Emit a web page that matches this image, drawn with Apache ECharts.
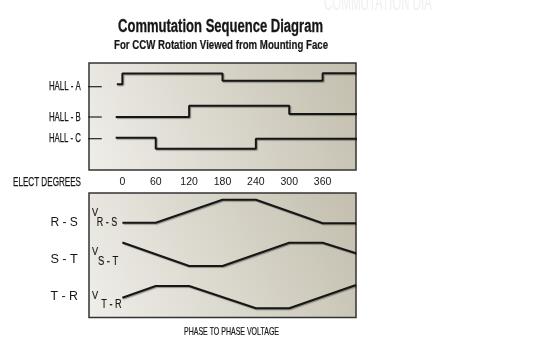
<!DOCTYPE html>
<html><head><meta charset="utf-8">
<script src="https://cdn.jsdelivr.net/npm/echarts@6/dist/echarts.min.js"></script>
<style>html,body{margin:0;padding:0;background:#fff}#c{width:546px;height:343px}</style>
</head><body><div id="c"></div>
<script>
// ---- data (x in electrical degrees, y in relative signal level) ----
const degreeTicks = [0, 60, 120, 180, 240, 300, 360];
const hallNames = ['HALL - A', 'HALL - B', 'HALL - C'];
const hallA = [[-10,85.7],[0,85.7],[0,96.5],[180,96.5],[180,89.3],[360,89.3],[360,96.7],[420,96.7]];
const hallB = [[-12,53],[120,53],[120,64.3],[300,64.3],[300,56],[422,56]];
const hallC = [[-12,32.3],[60,32.3],[60,21.3],[240,21.3],[240,31.3],[422,31.3]];
const hallLeaderLevels = [83.3, 53, 31.3];
const hallLeaderSpan = [-71, -37];

const phaseNames = ['R - S', 'S - T', 'T - R'];
const phaseSubs = ['R - S', 'S - T', 'T - R'];
const vRS = [[0,94.8],[60,94.8],[180,117.8],[240,117.8],[360,94.2],[420,94.2]];
const vST = [[0,75],[120,51.5],[180,51.5],[300,74.8],[360,74.8],[420,64.2]];
const vTR = [[0,19.8],[60,31.5],[120,31.5],[240,9.3],[300,9.3],[420,32.5]];
const phaseLabelLevels = [94.5, 57.5, 20.5];
const phaseLabelAnchor = -80;
const vSymbolLevels = [104.5, 65.8, 21.5];
const vSymbolAnchor = -49;
const subLevels = [94.8, 55.8, 12.5];
const subStarts = [-46, -44, -38];

const titleText = 'Commutation Sequence Diagram';
const subtitleText = 'For CCW Rotation Viewed from Mounting Face';
const axisTitle = 'ELECT DEGREES';
const bottomCaption = 'PHASE TO PHASE VOLTAGE';
const watermark = 'COMMUTATION DIA';

// ---- styling ----
const FACE = '"Liberation Sans", Arial, sans-serif';
const INK = '#161616';
const bg = {type:'linear', x:0, y:1, x2:1, y2:0, colorStops:[{offset:0,color:'#efeee9'},{offset:1,color:'#c3bead'}]};
const traceStyle = {color: INK, width: 2, shadowColor:'rgba(0,0,0,0.35)', shadowBlur:1, shadowOffsetX:1, shadowOffsetY:1};

const measureCtx = document.createElement('canvas').getContext('2d');
function fontOf(size, weight){ return (weight||'normal') + ' ' + size + 'px ' + FACE; }
// condensed text: scaled horizontally so it spans the given width
function ctext(text, x, y, size, width, align, opts) {
  opts = opts || {};
  const font = fontOf(size, opts.weight);
  measureCtx.font = font;
  const w = measureCtx.measureText(text).width;
  const sx = width ? width / w : (opts.scale || 0.72);
  const fill = opts.color || INK;
  const st = {text, font, fill, align, textAlign:align, verticalAlign:'middle', textVerticalAlign:'middle'};
  const sw = opts.stroke != null ? opts.stroke : 0.3;
  if (!opts.color && sw > 0) { st.stroke = fill; st.lineWidth = sw; }
  return {type:'text', x, y, scaleX:sx, silent:true, z:10, style:st};
}

function trace(data, gi) {
  return {type:'line', data, xAxisIndex:gi, yAxisIndex:gi, showSymbol:false, symbol:'none',
    clip:false, silent:true, lineStyle:traceStyle, z:3};
}

const series = [];
[hallA, hallB, hallC].forEach(d => series.push(trace(d, 0)));
[vRS, vST, vTR].forEach(d => series.push(trace(d, 1)));
hallLeaderLevels.forEach(lv => series.push({type:'line', xAxisIndex:0, yAxisIndex:0, clip:false,
  showSymbol:false, symbol:'none', silent:true, data:[[hallLeaderSpan[0],lv],[hallLeaderSpan[1],lv]],
  lineStyle:{color:'#222', width:1.2}, z:4}));

const chart = echarts.init(document.getElementById('c'), null, {renderer:'canvas'});
chart.setOption({
  animation:false,
  backgroundColor:'#ffffff',
  grid:[
    {left:89, top:63, width:267, height:107, show:true, backgroundColor:bg, borderColor:'#333', borderWidth:1.5},
    {left:89, top:193, width:267, height:124.5, show:true, backgroundColor:bg, borderColor:'#333', borderWidth:1.5}
  ],
  xAxis:[
    {gridIndex:0, type:'value', min:-60, max:420, interval:60, show:false},
    {gridIndex:1, type:'value', min:-60, max:420, interval:60, position:'top',
      axisLine:{show:false}, axisTick:{show:false}, splitLine:{show:false},
      axisLabel:{margin:5.5, fontFamily:FACE, fontSize:10.5, color:INK,
        formatter:v => degreeTicks.includes(v) ? String(v) : ''}}
  ],
  yAxis:[
    {gridIndex:0, type:'value', min:0, max:107, show:false},
    {gridIndex:1, type:'value', min:0, max:124.5, show:false}
  ],
  series
});

// texts: headings + labels anchored through the chart's own coordinate system
const px = (gi, pt) => chart.convertToPixel({gridIndex:gi}, pt);
const g = [];
g.push(ctext(watermark, 432, 3, 24, 108, 'right', {color:'#f2eff0'}));
g.push(ctext(titleText, 220.5, 27, 17.5, 205, 'center', {weight:'bold', stroke:0.3}));
g.push(ctext(subtitleText, 221, 45.5, 12.5, 214, 'center', {weight:'bold', stroke:0.2}));
g.push(ctext(axisTitle, 81, 182, 13.5, 68, 'right', {stroke:0.25}));
g.push(ctext(bottomCaption, 231.5, 332, 10.5, 95, 'center', {stroke:0.2}));
hallNames.forEach((n,i) => {
  const p = px(0, [hallLeaderSpan[0], hallLeaderLevels[i]]);
  g.push(ctext(n, p[0] - 2, p[1], 13, 32, 'right', {stroke:0.25}));
});
phaseNames.forEach((n,i) => {
  const p = px(1, [phaseLabelAnchor, phaseLabelLevels[i]]);
  g.push(ctext(n, p[0], p[1], 12.5, 27.5, 'right', {stroke:0}));
});
vSymbolLevels.forEach((lv,i) => {
  const p = px(1, [vSymbolAnchor, lv]);
  g.push(ctext('V', p[0], p[1], 11.5, 0, 'center', {scale:0.8, stroke:0.15}));
});
phaseSubs.forEach((n,i) => {
  const p = px(1, [subStarts[i], subLevels[i]]);
  g.push(ctext(n, p[0], p[1], 12.5, 20.5, 'left', {stroke:0.15}));
});
chart.setOption({graphic: g});
</script></body></html>
